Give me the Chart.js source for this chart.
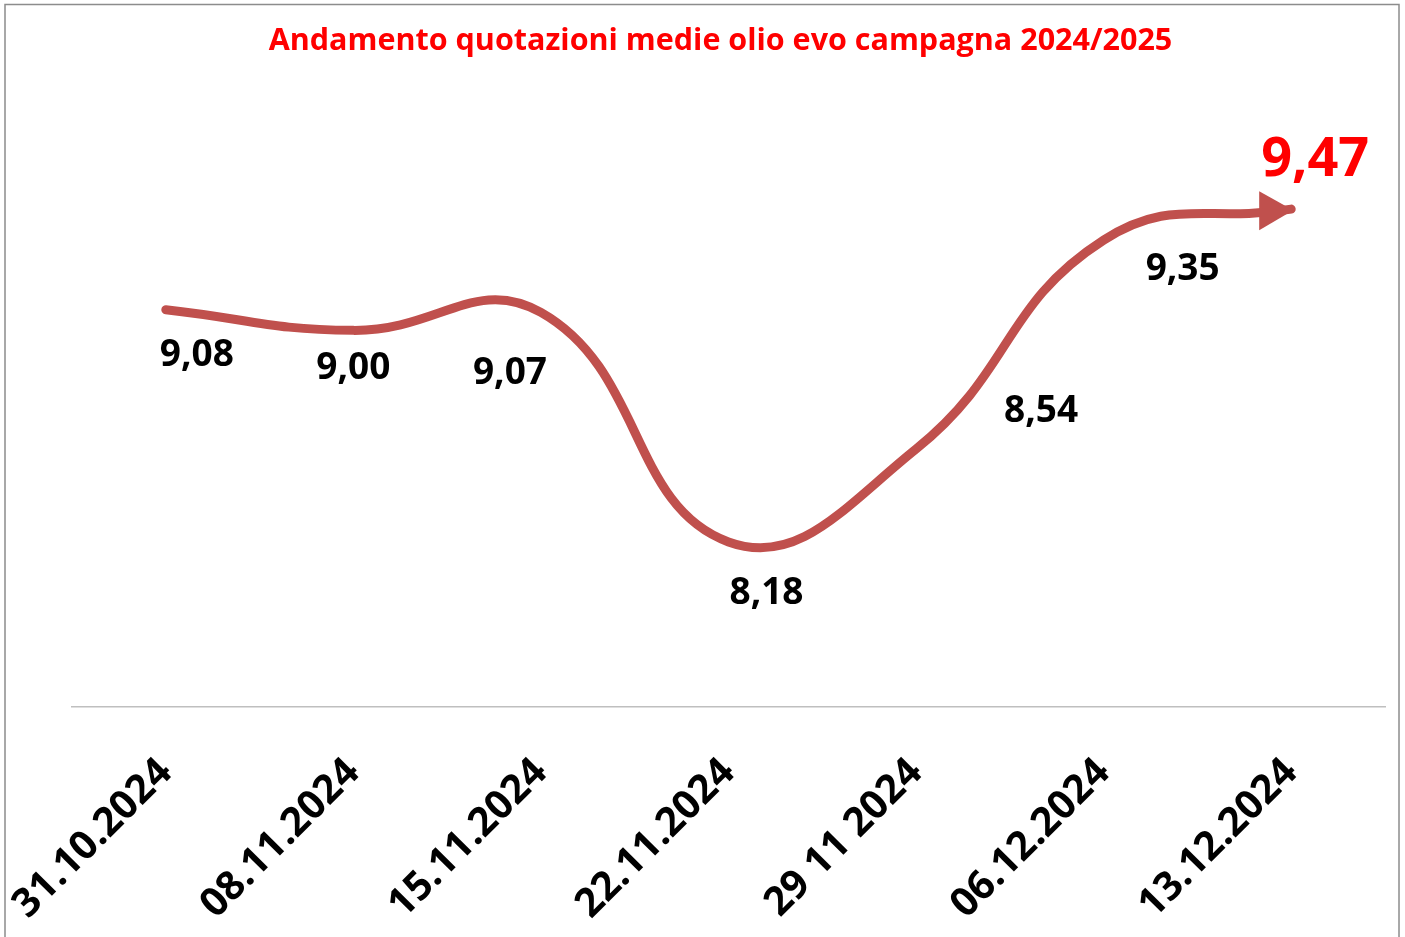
<!DOCTYPE html>
<html>
<head>
<meta charset="utf-8">
<script src="https://cdn.jsdelivr.net/npm/chart.js@4.4.1/dist/chart.umd.min.js"></script>
<style>
  html, body { margin: 0; padding: 0; background: #fff; }
  canvas { display: block; }
</style>
</head>
<body>
<canvas id="c" width="1405" height="937"></canvas>
<script>
const categories = ['31.10.2024', '08.11.2024', '15.11.2024', '22.11.2024', '29 11 2024', '06.12.2024', '13.12.2024'];
const prices = [9.08, 9.00, 9.07, 8.18, 8.54, 9.35, 9.47];
const chartTitle = 'Andamento quotazioni medie olio evo campagna 2024/2025';

const LINE_COLOR = '#C0504D';

const framePlugin = {
  id: 'frame',
  beforeDraw(chart) {
    const ctx = chart.ctx;
    ctx.save();
    ctx.fillStyle = '#fff';
    ctx.fillRect(0, 0, chart.width, chart.height);
    ctx.strokeStyle = '#8c8c8c';
    ctx.lineWidth = 1.5;
    ctx.strokeRect(5, 4.5, 1394, 1000);
    ctx.restore();
    // centre the title over the whole framed picture
    if (chart.titleBlock) {
      chart.titleBlock.left = 56;
      chart.titleBlock.right = 1385;
    }
  }
};

const labelPlugin = {
  id: 'pointLabels',
  afterDatasetsDraw(chart, args, opts) {
    const ctx = chart.ctx;
    const meta = chart.getDatasetMeta(0);
    const n = meta.data.length;
    const last = meta.data[n - 1];
    ctx.save();
    ctx.fillStyle = LINE_COLOR;
    ctx.beginPath();
    ctx.moveTo(last.x + 2, last.y + 1);
    ctx.lineTo(last.x - 32, last.y - 18);
    ctx.lineTo(last.x - 32, last.y + 21);
    ctx.closePath();
    ctx.fill();
    ctx.textAlign = 'center';
    ctx.textBaseline = 'middle';
    meta.data.forEach((pt, i) => {
      const off = opts.offsets[i];
      const isLast = i === n - 1;
      ctx.font = isLast ? 'bold 54px "Open Sans"' : 'bold 37px "Open Sans"';
      ctx.fillStyle = isLast ? '#FF0000' : '#000';
      const txt = prices[i].toFixed(2).replace('.', ',');
      ctx.fillText(txt, pt.x + off[0], pt.y + off[1]);
    });
    ctx.restore();
  }
};

new Chart(document.getElementById('c'), {
  type: 'line',
  data: {
    labels: categories,
    datasets: [{
      data: prices,
      borderColor: LINE_COLOR,
      borderWidth: 9,
      borderCapStyle: 'round',
      borderJoinStyle: 'round',
      tension: 0.45,
      pointRadius: 0,
      fill: false
    }]
  },
  options: {
    responsive: false,
    animation: false,
    layout: { padding: { left: 72, right: 20, top: 0, bottom: 0 } },
    plugins: {
      legend: { display: false },
      tooltip: { enabled: false },
      title: {
        display: true,
        text: chartTitle,
        color: '#FF0000',
        font: { family: 'Open Sans', size: 30.5, weight: 'bold', lineHeight: 1.2 },
        padding: { top: 23, bottom: 64.4 }
      },
      pointLabels: {
        offsets: [[31, 46], [0, 38], [-31, 61], [38, 52], [125, -38], [79, 29], [24, -49]]
      }
    },
    scales: {
      x: {
        offset: true,
        grid: { display: false, drawTicks: false },
        border: { display: true, color: '#BFBFBF', width: 1.5 },
        ticks: {
          autoSkip: false,
          maxRotation: 45,
          minRotation: 45,
          padding: 42,
          color: '#000',
          font: { family: 'Open Sans', size: 40, weight: 'bold' }
        },
        afterFit(scale) { scale.height = 230; scale.paddingLeft = 0; scale.paddingRight = 0; }
      },
      y: {
        display: false,
        min: 7.54,
        max: 9.8
      }
    }
  },
  plugins: [framePlugin, labelPlugin]
});
</script>
</body>
</html>
